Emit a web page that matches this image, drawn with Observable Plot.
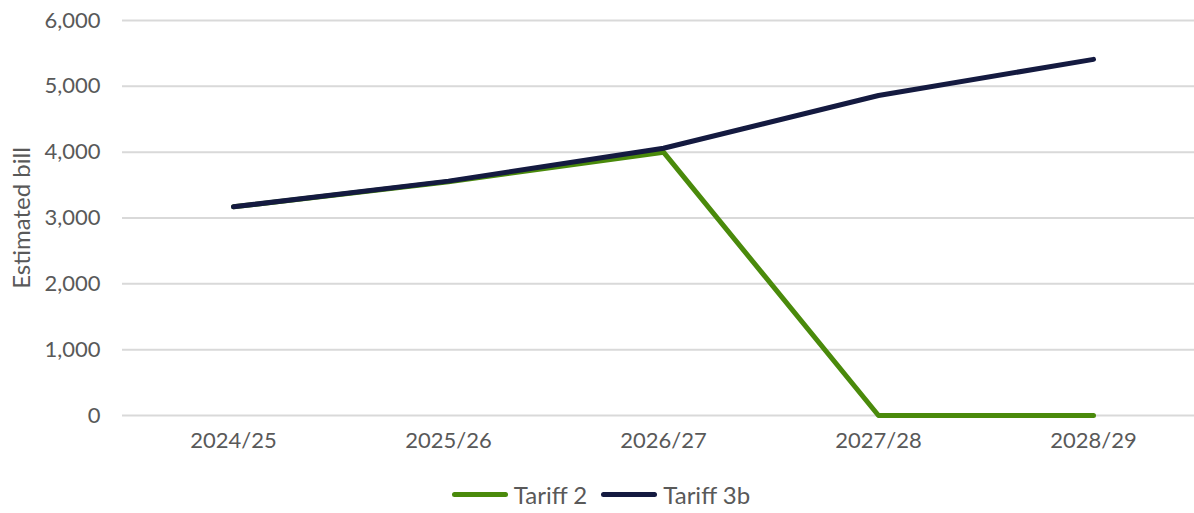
<!DOCTYPE html>
<html>
<head>
<meta charset="utf-8">
<script src="https://cdn.jsdelivr.net/npm/d3@7"></script>
<script src="https://cdn.jsdelivr.net/npm/@observablehq/plot@0.6"></script>
<style>
  html, body { margin: 0; padding: 0; background: #fff; }
  body { width: 1194px; height: 513px; overflow: hidden; font-family: Lato, "Open Sans", sans-serif; }
  #legend { display: flex; justify-content: center; align-items: center; gap: 14px; font-size: 24px; color: #595959; height: 43px; margin-top: 9px; margin-left: 8px; }
  .item { display: flex; align-items: center; }
  .swatch { width: 56px; height: 5px; border-radius: 3px; margin-right: 6px; }
</style>
</head>
<body>
<div id="chart"></div>
<div id="legend"></div>
<script>
const years = ["2024/25", "2025/26", "2026/27", "2027/28", "2028/29"];
const tariff2 = [3170, 3550, 4000, 0, 0];
const tariff3b = [3170, 3560, 4060, 4860, 5410];
const seriesNames = ["Tariff 2", "Tariff 3b"];
const seriesColors = ["#4a8a0b", "#141a40"];
const yTicks = [0, 1000, 2000, 3000, 4000, 5000, 6000];
const yTitle = "Estimated bill";

const data = [];
years.forEach((y, i) => {
  data.push({year: y, value: tariff2[i], series: seriesNames[0]});
});
years.forEach((y, i) => {
  data.push({year: y, value: tariff3b[i], series: seriesNames[1]});
});

const chart = Plot.plot({
  width: 1194,
  height: 464,
  marginTop: 20,
  marginBottom: 49,
  marginLeft: 122,
  marginRight: 0,
  style: { fontFamily: "Lato, 'Open Sans', sans-serif", fontSize: "22px", color: "#595959", background: "#fff" },
  x: { type: "point", domain: years, range: [232, 1094], padding: 0, label: null },
  y: { domain: [0, 6000], label: null },
  color: { domain: seriesNames, range: seriesColors },
  marks: [
    Plot.ruleY(yTicks, { stroke: "#d9d9d9", strokeWidth: 2 }),
    Plot.axisY({ ticks: yTicks, tickSize: 0, tickPadding: 22, tickFormat: d3.format(","), label: null, fill: "#595959", fontSize: 22 }),
    Plot.axisX({ tickSize: 0, tickPadding: 17, label: null, fill: "#595959", fontSize: 22 }),
    Plot.text([yTitle], { frameAnchor: "left", textAnchor: "middle", rotate: -90, dx: -100, fontSize: 24, fill: "#595959" }),
    Plot.line(data, { x: "year", y: "value", z: "series", stroke: "series", strokeWidth: 5, strokeLinecap: "round", strokeLinejoin: "round" })
  ]
});
document.getElementById("chart").appendChild(chart);

const legend = document.getElementById("legend");
seriesNames.forEach((name, i) => {
  const item = document.createElement("div");
  item.className = "item";
  const sw = document.createElement("div");
  sw.className = "swatch";
  sw.style.background = seriesColors[i];
  const label = document.createElement("span");
  label.textContent = name;
  item.appendChild(sw);
  item.appendChild(label);
  legend.appendChild(item);
});
</script>
</body>
</html>
